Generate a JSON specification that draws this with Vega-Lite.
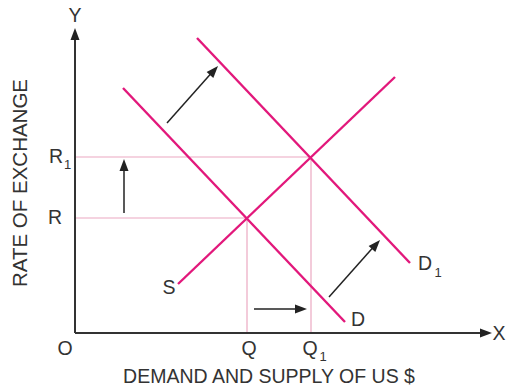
{
  "$schema": "https://vega.github.io/schema/vega-lite/v6.json",
  "width": 418,
  "height": 303,
  "autosize": {"type": "none"},
  "padding": {"left": 75, "top": 30, "right": 13, "bottom": 58},
  "background": "white",
  "config": {"view": {"stroke": null}},
  "datasets": {
    "curves": [
      {"name": "S", "x": 10.3, "y": 4.9, "x2": 32.0, "y2": 25.6},
      {"name": "D", "x": 4.8, "y": 24.5, "x2": 27.0, "y2": 1.1},
      {"name": "D1", "x": 12.2, "y": 29.5, "x2": 33.5, "y2": 7.0}
    ],
    "guides": [
      {"name": "R1", "x": 0, "y": 17.6, "x2": 23.6, "y2": 17.6},
      {"name": "R", "x": 0, "y": 11.5, "x2": 17.2, "y2": 11.5},
      {"name": "Q", "x": 17.2, "y": 0, "x2": 17.2, "y2": 11.5},
      {"name": "Q1", "x": 23.6, "y": 0, "x2": 23.6, "y2": 17.6}
    ],
    "axes": [
      {"name": "Y", "x": 0, "y": 0, "x2": 0, "y2": 30.0},
      {"name": "X", "x": 0, "y": 0, "x2": 41.2, "y2": 0}
    ],
    "shafts": [
      {"name": "rate up", "x": 4.9, "y": 12.0, "x2": 4.9, "y2": 17.0},
      {"name": "quantity right", "x": 17.9, "y": 2.4, "x2": 22.8, "y2": 2.4},
      {"name": "demand shift upper", "x": 9.2, "y": 21.0, "x2": 14.0, "y2": 26.4},
      {"name": "demand shift lower", "x": 25.4, "y": 3.6, "x2": 30.2, "y2": 9.0}
    ],
    "heads": [
      {"dir": "up", "x": 0, "y": 30.5},
      {"dir": "up", "x": 4.9, "y": 17.4},
      {"dir": "right", "x": 41.7, "y": 0},
      {"dir": "right", "x": 23.2, "y": 2.4},
      {"dir": "diag", "x": 14.3, "y": 26.7},
      {"dir": "diag", "x": 30.5, "y": 9.3}
    ],
    "labels": [
      {"kind": "big", "text": "Y", "x": 0, "y": 31.7},
      {"kind": "big", "text": "X", "x": 42.4, "y": -0.1},
      {"kind": "big", "text": "O", "x": -1.0, "y": -1.6},
      {"kind": "big", "text": "R", "x": -1.9, "y": 17.6},
      {"kind": "big", "text": "R", "x": -2.0, "y": 11.5},
      {"kind": "big", "text": "Q", "x": 17.4, "y": -1.6},
      {"kind": "big", "text": "Q", "x": 23.5, "y": -1.6},
      {"kind": "big", "text": "S", "x": 9.4, "y": 4.5},
      {"kind": "big", "text": "D", "x": 28.3, "y": 1.3},
      {"kind": "big", "text": "D", "x": 35.0, "y": 6.9},
      {"kind": "sub", "text": "1", "x": -0.75, "y": 16.8},
      {"kind": "sub", "text": "1", "x": 24.8, "y": -2.4},
      {"kind": "sub", "text": "1", "x": 36.3, "y": 6.0}
    ],
    "titles": [
      {"kind": "ytitle", "text": "RATE OF EXCHANGE", "x": -5.4, "y": 15.0},
      {"kind": "xtitle", "text": "DEMAND AND SUPPLY OF US $", "x": 19.4, "y": -4.4}
    ]
  },
  "encoding": {
    "x": {"field": "x", "type": "quantitative", "scale": {"domain": [0, 41.8], "nice": false, "zero": false}, "axis": null},
    "y": {"field": "y", "type": "quantitative", "scale": {"domain": [0, 30.3], "nice": false, "zero": false}, "axis": null}
  },
  "layer": [
    {
      "data": {"name": "guides"},
      "mark": {"type": "rule", "color": "#eba8c1", "strokeWidth": 1.2},
      "encoding": {"x2": {"field": "x2"}, "y2": {"field": "y2"}}
    },
    {
      "data": {"name": "curves"},
      "mark": {"type": "rule", "color": "#e2187b", "strokeWidth": 2.4},
      "encoding": {"x2": {"field": "x2"}, "y2": {"field": "y2"}}
    },
    {
      "data": {"name": "axes"},
      "mark": {"type": "rule", "color": "#333333", "strokeWidth": 2},
      "encoding": {"x2": {"field": "x2"}, "y2": {"field": "y2"}}
    },
    {
      "data": {"name": "shafts"},
      "mark": {"type": "rule", "color": "#222222", "strokeWidth": 1.5},
      "encoding": {"x2": {"field": "x2"}, "y2": {"field": "y2"}}
    },
    {
      "data": {"name": "heads"},
      "transform": [{"filter": "datum.dir === 'up'"}],
      "mark": {"type": "point", "filled": true, "color": "#222222", "opacity": 1, "size": 400, "angle": 0, "shape": "M0,0L-0.45,1.2L0.45,1.2Z"}
    },
    {
      "data": {"name": "heads"},
      "transform": [{"filter": "datum.dir === 'right'"}],
      "mark": {"type": "point", "filled": true, "color": "#222222", "opacity": 1, "size": 400, "angle": 90, "shape": "M0,0L-0.45,1.2L0.45,1.2Z"}
    },
    {
      "data": {"name": "heads"},
      "transform": [{"filter": "datum.dir === 'diag'"}],
      "mark": {"type": "point", "filled": true, "color": "#222222", "opacity": 1, "size": 400, "angle": 42, "shape": "M0,0L-0.45,1.2L0.45,1.2Z"}
    },
    {
      "data": {"name": "labels"},
      "transform": [{"filter": "datum.kind === 'big'"}],
      "mark": {"type": "text", "font": "Liberation Sans", "fontSize": 19.5, "color": "#333333", "align": "center", "baseline": "middle"},
      "encoding": {"text": {"field": "text"}}
    },
    {
      "data": {"name": "labels"},
      "transform": [{"filter": "datum.kind === 'sub'"}],
      "mark": {"type": "text", "font": "Liberation Sans", "fontSize": 13, "color": "#333333", "align": "center", "baseline": "middle"},
      "encoding": {"text": {"field": "text"}}
    },
    {
      "data": {"name": "titles"},
      "transform": [{"filter": "datum.kind === 'ytitle'"}],
      "mark": {"type": "text", "font": "Liberation Sans", "fontSize": 20.5, "color": "#333333", "align": "center", "baseline": "middle", "angle": 270},
      "encoding": {"text": {"field": "text"}}
    },
    {
      "data": {"name": "titles"},
      "transform": [{"filter": "datum.kind === 'xtitle'"}],
      "mark": {"type": "text", "font": "Liberation Sans", "fontSize": 19.5, "color": "#333333", "align": "center", "baseline": "middle"},
      "encoding": {"text": {"field": "text"}}
    }
  ]
}
